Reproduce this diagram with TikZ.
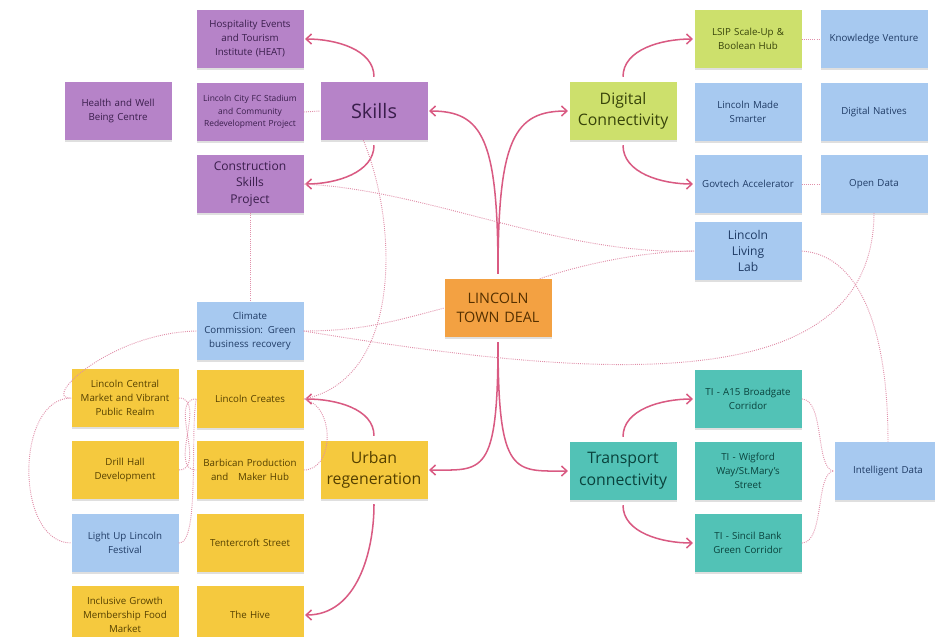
\documentclass[tikz,border=0pt]{standalone}
\usepackage{fontspec}
\setmainfont{Open Sans}
\usetikzlibrary{arrows.meta,shadows}
\definecolor{skillfill}{HTML}{B683C8}
\definecolor{skilltext}{HTML}{3A1E4C}
\definecolor{bluefill}{HTML}{A7C9F0}
\definecolor{bluetext}{HTML}{203C66}
\definecolor{yellowfill}{HTML}{F5C93E}
\definecolor{yellowtext}{HTML}{554000}
\definecolor{limefill}{HTML}{CDE06C}
\definecolor{limetext}{HTML}{38440A}
\definecolor{tealfill}{HTML}{52C2B6}
\definecolor{tealtext}{HTML}{0A423C}
\definecolor{dealfill}{HTML}{F3A142}
\definecolor{dealtext}{HTML}{553000}
\definecolor{linkpink}{HTML}{D95A82}
\definecolor{dotpink}{HTML}{E08FA9}
\begin{document}
\begin{tikzpicture}[x=0.3mm, y=-0.3mm,
  note/.style={rectangle, fill=#1, minimum width=32.1mm, minimum height=17.4mm,
               text width=30.5mm, align=center, inner sep=0.4mm,
               drop shadow={shadow xshift=0mm, shadow yshift=-0.7mm, opacity=.25},
               font=\fontsize{8.3}{12}\selectfont},
  skl/.style={note=skillfill, text=skilltext},
  blu/.style={note=bluefill, text=bluetext},
  yel/.style={note=yellowfill, text=yellowtext},
  lim/.style={note=limefill, text=limetext},
  tea/.style={note=tealfill, text=tealtext},
  hubfont/.style={font=\fontsize{13.5}{18.5}\selectfont},
  midfont/.style={font=\fontsize{10.3}{13.8}\selectfont},
  tinyfont/.style={font=\fontsize{7.2}{10.5}\selectfont},
  arr/.style={-{Straight Barb[length=1.6mm,width=3mm]}, line width=1.3pt,
              linkpink, shorten <=1.5mm, shorten >=0.4mm},
  dot/.style={densely dotted, line width=0.8pt, dotpink}
]
  \useasboundingbox (0,0) rectangle (935,636);
  % Skills
  \node[skl] (heat) at (250,39) {Hospitality Events\\and Tourism\\Institute (HEAT)};
  \node[skl] (health) at (118,111) {Health and Well\\Being Centre};
  \node[skl, tinyfont] (stadium) at (250,112) {Lincoln City FC Stadium\\and Community\\Redevelopment Project};
  \node[skl, font=\fontsize{17}{20}\selectfont] (skills) at (374,111) {Skills};
  \node[skl, midfont] (consk) at (250,184) {Construction\\Skills\\Project};
  % Urban regeneration
  \node[blu] (climate) at (250,331) {Climate\\Commission: Green\\business recovery};
  \node[yel] (market) at (125,398) {Lincoln Central\\Market and Vibrant\\Public Realm};
  \node[yel] (lcreates) at (250,399) {Lincoln Creates};
  \node[yel] (drill) at (125,470) {Drill Hall\\Development};
  \node[yel] (barbican) at (250,470) {Barbican Production\\and\ \ \ Maker Hub};
  \node[yel, hubfont] (urban) at (374,470) {Urban\\regeneration};
  \node[blu] (lightup) at (125,543) {Light Up Lincoln\\Festival};
  \node[yel] (tenter) at (250,543) {Tentercroft Street};
  \node[yel] (incl) at (125,615) {Inclusive Growth\\Membership Food\\Market};
  \node[yel] (hive) at (250,615) {The Hive};
  % Centre
  \node[note=dealfill, text=dealtext, font=\fontsize{12.3}{16}\selectfont] (deal) at (498,308) {LINCOLN\\TOWN DEAL};
  % Digital connectivity
  \node[lim, hubfont] (digital) at (623,111) {Digital\\Connectivity};
  \node[lim] (lsip) at (748,39) {LSIP Scale-Up \&\\Boolean Hub};
  \node[blu] (venture) at (874,39) {Knowledge Venture};
  \node[blu] (smarter) at (748,112) {Lincoln Made\\Smarter};
  \node[blu] (natives) at (874,112) {Digital Natives};
  \node[blu] (govtech) at (748,184) {Govtech Accelerator};
  \node[blu] (opendata) at (874,184) {Open Data};
  \node[blu, midfont] (livlab) at (748,251) {Lincoln\\Living\\Lab};
  % Transport connectivity
  \node[tea] (ti1) at (748,399) {TI - A15 Broadgate\\Corridor};
  \node[tea, hubfont] (transport) at (623,471) {Transport\\connectivity};
  \node[tea] (ti2) at (748,471) {TI - Wigford\\Way/St.Mary's\\Street};
  \node[tea] (ti3) at (748,543) {TI - Sincil Bank\\Green Corridor};
  \node[blu] (intdata) at (888,471) {Intelligent Data};

  % Hub arrows
  \foreach \hub/\up/\down/\side/\anc in {skills/heat/consk/0/east,
      digital/lsip/govtech/180/west, transport/ti1/ti3/180/west,
      urban/lcreates/hive/0/east} {
    \draw[arr] (\hub.north) to[out=90, in=\side] (\up.\anc);
    \draw[arr] (\hub.south) to[out=-90, in=\side] (\down.\anc);
  }
  % Town deal branches
  \draw[arr] (deal.north) .. controls +(0,-140) and +(55,0) .. (skills.east);
  \draw[arr] (deal.north) .. controls +(0,-140) and +(-55,0) .. (digital.west);
  \draw[arr] (deal.south) .. controls +(0,140) and +(55,0) .. (urban.east);
  \draw[arr] (deal.south) .. controls +(0,140) and +(-55,0) .. (transport.west);

  % Dotted links
  \draw[dot] (consk.south) -- (climate.north);
  \draw[dot] (stadium.east) -- (skills.west);
  \draw[dot] (lsip.east) -- (venture.west);
  \draw[dot] (govtech.east) -- (opendata.west);
  \draw[dot] (consk.east) .. controls (430,190) and (560,256) .. (livlab.west);
  \draw[dot] (deal.35) .. controls +(40,-14) and +(-50,0) .. (livlab.west);
  \draw[dot] (climate.east) to[out=0, in=195] (deal.west);
  \draw[dot] (climate.east) .. controls (600,380) and (873,400) .. (opendata.south);
  \draw[dot] (livlab.east) .. controls (860,255) and (888,330) .. (intdata.north);
  \draw[dot] (skills.250) .. controls (400,230) and (400,380) .. (lcreates.east);
  \draw[dot] (barbican.east) .. controls (335,470) and (335,405) .. (lcreates.east);
  \draw[dot] (climate.west) .. controls (110,333) and (40,400) .. (market.west);
  \draw[dot] (market.west) to[out=180, in=180] (lightup.west);
  \draw[dot] (lcreates.west) to[out=180, in=0] (drill.east);
  \draw[dot] (market.east) to[out=0, in=180] (barbican.west);
  \draw[dot] (lightup.east) .. controls (200,545) and (190,430) .. (lcreates.west);
  \draw[dot] (ti1.east) .. controls (825,399) and (815,471) .. (intdata.west);
  \draw[dot] (ti3.east) .. controls (825,543) and (815,471) .. (intdata.west);
\end{tikzpicture}
\end{document}
